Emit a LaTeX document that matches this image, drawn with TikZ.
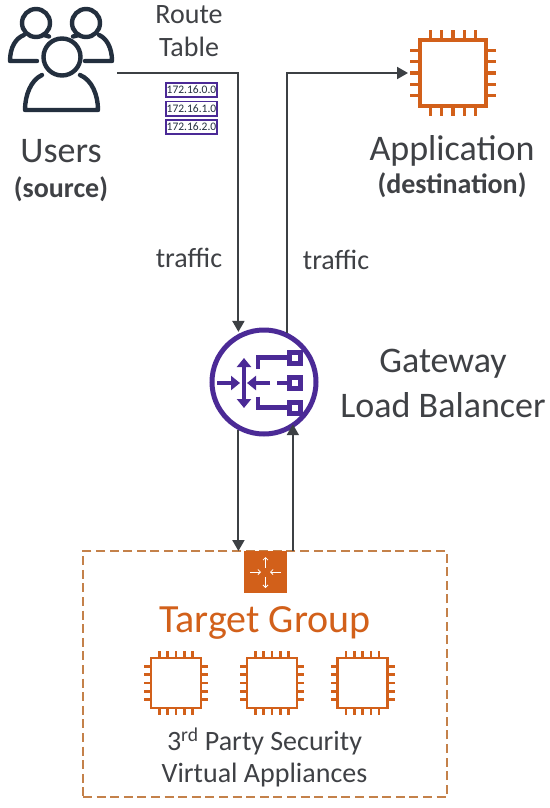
\documentclass[tikz,border=0pt]{standalone}
\usepackage{fontspec}
\setmainfont{Carlito}
\usetikzlibrary{arrows.meta,calc}
\definecolor{inkgrey}{HTML}{3F4145}
\definecolor{linegrey}{HTML}{3C4044}
\definecolor{navy}{HTML}{232F3E}
\definecolor{awsorange}{HTML}{D2601A}
\definecolor{dashorange}{HTML}{C4814A}
\definecolor{awspurple}{HTML}{4B2A96}
\tikzset{
  conn/.style={draw=linegrey,line width=2pt,-{Triangle[width=12pt,length=11pt]}},
  label/.style={text=inkgrey,inner sep=0pt,align=center},
  bigtext/.style={label,font=\fontsize{36}{40}\selectfont},
  midtext/.style={label,font=\fontsize{36}{40}\selectfont},
  smalltext/.style={label,font=\fontsize{28}{32}\selectfont},
  boldtext/.style={label,font=\fontsize{28}{32}\selectfont\bfseries},
  ghost/.style={inner sep=0pt,outer sep=0pt,rectangle},
  iprow/.style={draw=awspurple,line width=1.8pt,fill=white,inner sep=0pt,minimum width=51pt,minimum height=14.5pt,text=navy,font=\fontsize{11.5}{11.5}\selectfont},
  personline/.style={draw=navy,line width=4.4pt,line cap=round,line join=round},
  glyph/.style={draw=awspurple,line width=4.4pt},
  glyphtip/.style={glyph,-{Triangle[width=14pt,length=9pt]}},
  whitearrow/.style={draw=white,line width=0.8pt,-{Straight Barb[length=2.5pt,width=5pt]}}
}
% #1 x, #2 y, #3 half side, #4 pin length, #5 pin spacing, #6 line width
\newcommand{\chipicon}[6]{%
  \begin{scope}[shift={(#1,#2)}]
    \foreach \k in {-2,...,2}{
      \draw[awsorange,line width=#6] (\k*#5,-#3) -- (\k*#5,-#3-#4);
      \draw[awsorange,line width=#6] (\k*#5,#3) -- (\k*#5,#3+#4);
      \draw[awsorange,line width=#6] (-#3,\k*#5) -- (-#3-#4,\k*#5);
      \draw[awsorange,line width=#6] (#3,\k*#5) -- (#3+#4,\k*#5);
    }
    \draw[awsorange,line width=#6,fill=white] (-#3,-#3) rectangle (#3,#3);
  \end{scope}}
\newcommand{\glbsquare}[1]{%
  \draw[awspurple,line width=5pt,fill=white] (295-5.5,#1-5.5) rectangle (295+5.5,#1+5.5);}
\begin{document}
\begin{tikzpicture}[x=1pt,y=-1pt]
\useasboundingbox (0,0) rectangle (549,808);
\fill[white] (0,0) rectangle (549,808);

% Target group box
\node[ghost,draw=dashorange,line width=1.7pt,dash pattern=on 9pt off 4.6pt,minimum width=364pt,minimum height=246pt] (tgbox) at (265,674) {};

% Users icon
\node[ghost,minimum width=117pt,minimum height=80pt] (users) at (58.5,73) {};
\draw[personline] (36,23) circle (14);
\draw[personline] (86,23) circle (14);
\draw[personline] (37,61) -- (10,61) .. controls (10,47) and (16,38) .. (24,35);
\draw[personline] (44,35) -- (49,36.5);
\draw[personline] (85,61) -- (112,61) .. controls (112,47) and (106,38) .. (99,35);
\draw[personline] (79,35) -- (73,36.5);
\draw[personline] (62,57) circle (18.5);
\draw[personline] (42,75) .. controls (31,80) and (25,95) .. (25,110) -- (98,110) .. controls (98,95) and (92,80) .. (80,75);

% Application chip
\node[ghost,minimum width=90pt,minimum height=90pt] (app) at (453,73) {};
\chipicon{453}{73}{33}{10}{11.4}{3.2pt}

% Gateway Load Balancer
\node[circle,draw=awspurple,line width=5pt,fill=white,minimum size=104pt,inner sep=0pt] (glb) at (264,382) {};
\draw[glyphtip] (217,383) -- (240,383);
\draw[glyphtip] (270,383) -- (247,383);
\draw[glyph,{Triangle[width=14pt,length=9pt]}-{Triangle[width=14pt,length=9pt]}] (244,358) -- (244,408);
\draw[glyph] (258,368.5) -- (258,357.5) -- (290,357.5);
\draw[glyph] (277,383) -- (290,383);
\draw[glyph] (258,396.5) -- (258,407.5) -- (290,407.5);
\glbsquare{358}\glbsquare{383}\glbsquare{408}

% Target group icon
\node[ghost,fill=awsorange,minimum width=43pt,minimum height=42pt] (tgicon) at (265.5,572) {};
\draw[whitearrow] (265.5,568) -- (265.5,557);
\draw[whitearrow] (265.5,577) -- (265.5,588);
\draw[whitearrow] (250,572) -- (261,572);
\draw[whitearrow] (281,572) -- (270,572);

% Connectors
\draw[conn,shorten >=2pt] (users.east) -| (glb.118);
\draw[conn] (glb.65) |- (app.west);
\draw[conn] (glb.242) -- (glb.242 |- tgbox.north);
\draw[conn,shorten >=-4pt] (glb.-58 |- tgbox.north) -- (glb.-58);

% Route table
\node[iprow] (ip0) at (191.5,90) {172.16.0.0};
\node[iprow] (ip1) at (191.5,108.7) {172.16.1.0};
\node[iprow] (ip2) at (191.5,127) {172.16.2.0};

% Target chips
\chipicon{176}{683}{25}{7}{8.3}{2.6pt}
\chipicon{272}{683}{25}{7}{8.3}{2.6pt}
\chipicon{362.5}{683}{25}{7}{8.3}{2.6pt}

% Texts
\node[smalltext] (rt1) at (189,15) {Route};
\node[smalltext] (rt2) at (189,47) {Table};
\node[bigtext] (utext) at (61,151) {Users};
\node[boldtext] (usrc) at (61,189) {(source)};
\node[bigtext] (atext) at (452,150.5) {Application};
\node[boldtext] (adst) at (452,185.5) {(destination)};
\node[smalltext] (tr1) at (189,258) {traffic};
\node[smalltext] (tr2) at (336,260) {traffic};
\node[midtext] (g1) at (443,364) {Gateway};
\node[midtext] (g2) at (443,405) {Load Balancer};
\node[label,text=awsorange,font=\fontsize{40}{44}\selectfont] (tgt) at (265,622.5) {Target Group};
\node[label,font=\fontsize{28}{32}\selectfont] (v1) at (264.5,741) {3\textsuperscript{rd} Party Security};
\node[label,font=\fontsize{28}{32}\selectfont] (v2) at (264.5,775) {Virtual Appliances};
\end{tikzpicture}
\end{document}
